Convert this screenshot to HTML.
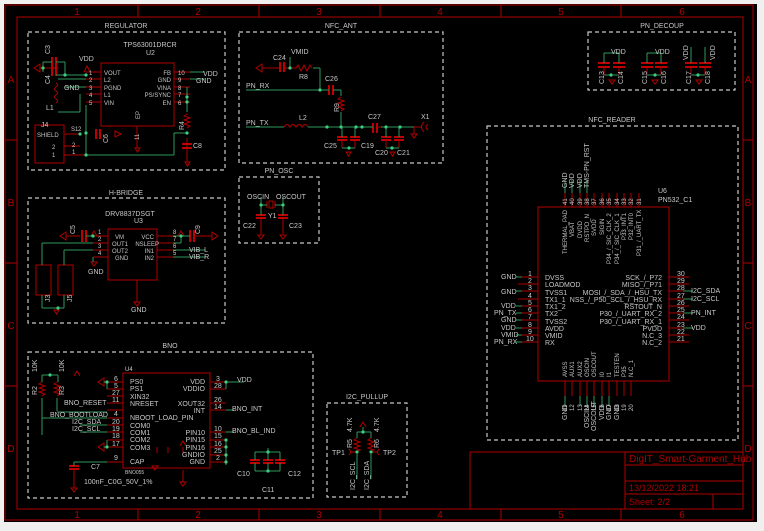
<!DOCTYPE html>
<html><head><meta charset="utf-8"><style>
html,body{margin:0;padding:0;background:#f0f0f0;width:764px;height:531px;overflow:hidden}
svg{display:block}
text{font-family:"Liberation Sans",sans-serif;fill:#c8c8c8;font-size:7px}
.r{stroke:#b00000;fill:none;stroke-width:1}
.g{stroke:#2e9a5c;fill:none;stroke-width:1}
.bx{stroke:#c8c8c8;fill:none;stroke-width:1.2;stroke-dasharray:4,3}
.rt{fill:#b00000;font-size:10px}
.j{fill:#3ccf80}
.t{font-size:8px}
.s{font-size:6px}
.cap{stroke:#c00000;stroke-width:2;fill:none}
</style></head><body>
<svg width="764" height="531" viewBox="0 0 764 531" xmlns="http://www.w3.org/2000/svg">
<rect x="4" y="4" width="753" height="518" fill="#000"/>
<!-- frame -->
<rect x="5" y="5" width="748" height="515" class="r"/>
<rect x="17" y="17" width="726" height="492" class="r"/>
<g class="r">
<line x1="138" y1="5" x2="138" y2="17"/><line x1="259" y1="5" x2="259" y2="17"/><line x1="380" y1="5" x2="380" y2="17"/><line x1="501" y1="5" x2="501" y2="17"/><line x1="621" y1="5" x2="621" y2="17"/>
<line x1="138" y1="509" x2="138" y2="520"/><line x1="259" y1="509" x2="259" y2="520"/><line x1="380" y1="509" x2="380" y2="520"/><line x1="501" y1="509" x2="501" y2="520"/><line x1="621" y1="509" x2="621" y2="520"/>
<line x1="5" y1="140" x2="17" y2="140"/><line x1="5" y1="263" x2="17" y2="263"/><line x1="5" y1="386" x2="17" y2="386"/>
<line x1="743" y1="140" x2="753" y2="140"/><line x1="743" y1="263" x2="753" y2="263"/><line x1="743" y1="386" x2="753" y2="386"/>
</g>
<g class="rt" text-anchor="middle">
<text x="77" y="15" class="rt">1</text><text x="198" y="15" class="rt">2</text><text x="319" y="15" class="rt">3</text><text x="440" y="15" class="rt">4</text><text x="561" y="15" class="rt">5</text><text x="682" y="15" class="rt">6</text>
<text x="77" y="518" class="rt">1</text><text x="198" y="518" class="rt">2</text><text x="319" y="518" class="rt">3</text><text x="440" y="518" class="rt">4</text><text x="561" y="518" class="rt">5</text><text x="682" y="518" class="rt">6</text>
<text x="11" y="83" class="rt">A</text><text x="11" y="206" class="rt">B</text><text x="11" y="329" class="rt">C</text><text x="11" y="452" class="rt">D</text>
<text x="748" y="83" class="rt">A</text><text x="748" y="206" class="rt">B</text><text x="748" y="329" class="rt">C</text><text x="748" y="452" class="rt">D</text>
</g>
<!-- title block -->
<g class="r"><rect x="470" y="452" width="273" height="57"/><line x1="625" y1="452" x2="625" y2="509"/><line x1="625" y1="465" x2="743" y2="465"/><line x1="625" y1="481" x2="743" y2="481"/><line x1="625" y1="494" x2="743" y2="494"/><line x1="713" y1="494" x2="713" y2="509"/></g>
<text x="629" y="462" style="fill:#b00000;font-size:10px">DigIT_Smart-Garment_Hub</text>
<text x="629" y="491" style="fill:#b00000;font-size:9px">13/12/2022 18:21</text>
<text x="629" y="505" style="fill:#b00000;font-size:9px">Sheet: 2/2</text>

<!-- group boxes -->
<rect x="28" y="32" width="197" height="138" class="bx"/><text x="126" y="28" text-anchor="middle">REGULATOR</text>
<rect x="239" y="32" width="204" height="131" class="bx"/><text x="341" y="28" text-anchor="middle">NFC_ANT</text>
<rect x="239" y="177" width="80" height="66" class="bx"/><text x="279" y="173" text-anchor="middle">PN_OSC</text>
<rect x="28" y="198" width="197" height="125" class="bx"/><text x="126" y="195" text-anchor="middle">H-BRIDGE</text>
<rect x="588" y="32" width="147" height="58" class="bx"/><text x="662" y="28" text-anchor="middle">PN_DECOUP</text>
<rect x="487" y="126" width="251" height="314" class="bx"/><text x="612" y="122" text-anchor="middle">NFC_READER</text>
<rect x="28" y="352" width="285" height="146" class="bx"/><text x="170" y="348" text-anchor="middle">BNO</text>
<rect x="327" y="403" width="80" height="94" class="bx"/><text x="367" y="399" text-anchor="middle">I2C_PULLUP</text>

<!-- REGULATOR -->
<rect x="101" y="63" width="73" height="63" class="r"/>
<text x="150" y="47" text-anchor="middle">TPS63001DRCR</text><text x="146" y="55">U2</text>
<g class="r"><line x1="86" y1="72" x2="101" y2="72"/><line x1="86" y1="79" x2="101" y2="79"/><line x1="86" y1="87" x2="101" y2="87"/><line x1="86" y1="94" x2="101" y2="94"/><line x1="86" y1="102" x2="101" y2="102"/>
<line x1="174" y1="72" x2="190" y2="72"/><line x1="174" y1="79" x2="190" y2="79"/><line x1="174" y1="87" x2="190" y2="87"/><line x1="174" y1="94" x2="190" y2="94"/><line x1="174" y1="102" x2="190" y2="102"/><line x1="137" y1="126" x2="137" y2="148"/>
<line x1="40" y1="68" x2="58" y2="68"/><path d="M40 64 L34 68 L40 72Z"/><path d="M84 72 L87 66 L90 72"/><path d="M135 148 h5 l-2.5 4z"/>
<path d="M56 83 q3 2 0 4 q-3 2 0 4 q3 2 0 4 q-3 2 0 4 q3 2 0 4"/>
<rect x="35" y="125" width="29" height="38"/><line x1="64" y1="134" x2="80" y2="134"/><line x1="64" y1="146" x2="80" y2="146"/><line x1="64" y1="155" x2="86" y2="155"/>
<path d="M187 114 l-3 2 l6 2 l-6 2 l6 2 l-6 2 l6 2 l-3 2"/><line x1="187" y1="138" x2="187" y2="162"/><path d="M185 162 h5 l-2.5 4z"/><path d="M115 131 l6 3 l-6 3z"/>
</g>
<g class="cap"><line x1="52" y1="57" x2="52" y2="67"/><line x1="56" y1="57" x2="56" y2="67"/><line x1="52" y1="66" x2="52" y2="76"/><line x1="56" y1="66" x2="56" y2="76"/><line x1="96" y1="129" x2="96" y2="139"/><line x1="100" y1="129" x2="100" y2="139"/><line x1="182" y1="144" x2="192" y2="144"/><line x1="182" y1="148" x2="192" y2="148"/></g>
<g class="g"><line x1="43" y1="62" x2="43" y2="72"/><line x1="43" y1="62" x2="52" y2="62"/><line x1="56" y1="62" x2="65" y2="62"/><line x1="65" y1="62" x2="65" y2="76"/><line x1="56" y1="75" x2="86" y2="75"/><line x1="58" y1="79" x2="86" y2="79"/><line x1="65" y1="87" x2="86" y2="87"/><line x1="80" y1="94" x2="80" y2="112"/><line x1="58" y1="112" x2="80" y2="112"/><line x1="86" y1="105" x2="86" y2="155"/><line x1="86" y1="155" x2="174" y2="155"/><line x1="174" y1="133" x2="174" y2="155"/><line x1="174" y1="133" x2="187" y2="133"/><line x1="190" y1="72" x2="205" y2="72"/><line x1="190" y1="79" x2="205" y2="79"/><line x1="187" y1="87" x2="187" y2="112"/></g>
<circle cx="43" cy="68" r="1.6" class="j"/><circle cx="65" cy="75" r="1.6" class="j"/><circle cx="86" cy="75" r="1.6" class="j"/><circle cx="86" cy="133" r="1.6" class="j"/><circle cx="80" cy="134" r="1.6" class="j"/><circle cx="86" cy="155" r="1.6" class="j"/><circle cx="187" cy="97" r="1.6" class="j"/><circle cx="187" cy="102" r="1.6" class="j"/><circle cx="187" cy="133" r="1.6" class="j"/>
<text x="79" y="61">VDD</text><text x="64" y="90">GND</text><text x="46" y="110">L1</text><text x="41" y="127">J4</text><text x="37" y="137" class="s">SHIELD</text><text x="52" y="149" class="s">2</text><text x="52" y="157" class="s">1</text><text x="71" y="131" class="s">S1</text><text x="78" y="131" class="s">2</text><text x="72" y="147" class="s">2</text><text x="72" y="154" class="s">1</text>
<text x="104" y="75" class="s">VOUT</text><text x="104" y="82" class="s">L2</text><text x="104" y="90" class="s">PGND</text><text x="104" y="97" class="s">L1</text><text x="104" y="105" class="s">VIN</text>
<text x="89" y="75" class="s">1</text><text x="89" y="82" class="s">2</text><text x="89" y="90" class="s">3</text><text x="89" y="97" class="s">4</text><text x="89" y="105" class="s">5</text>
<text x="171" y="75" class="s" text-anchor="end">FB</text><text x="171" y="82" class="s" text-anchor="end">GND</text><text x="171" y="90" class="s" text-anchor="end">VINA</text><text x="171" y="97" class="s" text-anchor="end">PS/SYNC</text><text x="171" y="105" class="s" text-anchor="end">EN</text>
<text x="178" y="75" class="s">10</text><text x="178" y="82" class="s">9</text><text x="178" y="90" class="s">8</text><text x="178" y="97" class="s">7</text><text x="178" y="105" class="s">6</text>
<text x="203" y="76">VDD</text><text x="196" y="83">GND</text><text x="193" y="148">C8</text>
<text x="140" y="119" class="s" transform="rotate(-90 140 119)">EP</text><text x="139" y="140" class="s" transform="rotate(-90 139 140)">11</text>
<text x="50" y="54" transform="rotate(-90 50 54)">C3</text><text x="50" y="84" transform="rotate(-90 50 84)">C4</text><text x="184" y="130" transform="rotate(-90 184 130)">R4</text><text x="108" y="143" transform="rotate(-90 108 143)">C6</text>

<!-- NFC_ANT -->
<g class="cap"><line x1="280" y1="62" x2="280" y2="72"/><line x1="284" y1="62" x2="284" y2="72"/><line x1="329" y1="85" x2="329" y2="95"/><line x1="333" y1="85" x2="333" y2="95"/><line x1="373" y1="123" x2="373" y2="133"/><line x1="377" y1="123" x2="377" y2="133"/>
<line x1="337" y1="137" x2="347" y2="137"/><line x1="337" y1="140" x2="347" y2="140"/><line x1="350" y1="137" x2="360" y2="137"/><line x1="350" y1="140" x2="360" y2="140"/><line x1="381" y1="137" x2="391" y2="137"/><line x1="381" y1="140" x2="391" y2="140"/><line x1="394" y1="137" x2="404" y2="137"/><line x1="394" y1="140" x2="404" y2="140"/></g>
<g class="r"><line x1="262" y1="68" x2="280" y2="68"/><path d="M262 64 L256 68 L262 72Z"/><line x1="284" y1="68" x2="296" y2="68"/><path d="M296 68 l2 -3 l3 6 l3 -6 l3 6 l3 -6 l2 3"/>
<path d="M341 97 l-3 2 l6 2 l-6 2 l6 2 l-6 2 l6 2 l-3 2"/><path d="M284 127 q3 -5 6 0 q3 -5 6 0 q3 -5 6 0 q3 -5 6 0"/><line x1="377" y1="127" x2="381" y2="127"/>
<line x1="342" y1="140" x2="342" y2="148"/><line x1="355" y1="140" x2="355" y2="148"/><line x1="386" y1="140" x2="386" y2="148"/><line x1="399" y1="140" x2="399" y2="148"/><path d="M346 152 h5 l-2.5 4z"/><path d="M390 152 h5 l-2.5 4z"/>
<path d="M424 122 q-5 5 0 10 M428 124 q-4 3 0 6"/><line x1="414" y1="127" x2="422" y2="127"/><line x1="414" y1="127" x2="414" y2="134"/><path d="M411 134 h6 l-3 4z"/></g>
<g class="g"><line x1="290" y1="57" x2="290" y2="68"/><line x1="313" y1="68" x2="320" y2="68"/><line x1="320" y1="68" x2="320" y2="90"/><line x1="246" y1="90" x2="329" y2="90"/><line x1="333" y1="90" x2="341" y2="90"/><line x1="341" y1="90" x2="341" y2="96"/><line x1="341" y1="112" x2="341" y2="127"/><line x1="246" y1="127" x2="284" y2="127"/><line x1="308" y1="127" x2="373" y2="127"/><line x1="381" y1="127" x2="414" y2="127"/><line x1="342" y1="127" x2="342" y2="137"/><line x1="355" y1="127" x2="355" y2="137"/><line x1="386" y1="127" x2="386" y2="137"/><line x1="399" y1="127" x2="399" y2="137"/><line x1="342" y1="148" x2="355" y2="148"/><line x1="386" y1="148" x2="399" y2="148"/></g>
<circle cx="290" cy="68" r="1.6" class="j"/><circle cx="320" cy="90" r="1.6" class="j"/><circle cx="327" cy="127" r="1.6" class="j"/><circle cx="341" cy="127" r="1.6" class="j"/><circle cx="356" cy="127" r="1.6" class="j"/><circle cx="362" cy="127" r="1.6" class="j"/><circle cx="386" cy="127" r="1.6" class="j"/><circle cx="400" cy="127" r="1.6" class="j"/><circle cx="349" cy="148" r="1.6" class="j"/><circle cx="392" cy="148" r="1.6" class="j"/>
<text x="291" y="54">VMID</text><text x="273" y="60">C24</text><text x="299" y="79">R8</text><text x="325" y="81">C26</text><text x="246" y="88">PN_RX</text><text x="246" y="125">PN_TX</text><text x="299" y="120">L2</text><text x="368" y="119">C27</text><text x="421" y="119">X1</text>
<text x="324" y="148">C25</text><text x="361" y="148">C19</text><text x="375" y="155">C20</text><text x="397" y="155">C21</text><text x="339" y="112" transform="rotate(-90 339 112)">R9</text>

<!-- PN_OSC -->
<g class="r"><rect x="269" y="201" width="4" height="7"/><line x1="267" y1="201" x2="267" y2="208"/><line x1="275" y1="201" x2="275" y2="208"/><line x1="261" y1="218" x2="261" y2="234"/><line x1="283" y1="218" x2="283" y2="234"/><path d="M258 235 h6 l-3 4z"/><path d="M280 235 h6 l-3 4z"/></g>
<g class="cap"><line x1="256" y1="215" x2="266" y2="215"/><line x1="256" y1="218" x2="266" y2="218"/><line x1="278" y1="215" x2="288" y2="215"/><line x1="278" y1="218" x2="288" y2="218"/></g>
<g class="g"><line x1="261" y1="197" x2="261" y2="215"/><line x1="283" y1="197" x2="283" y2="215"/><line x1="261" y1="205" x2="267" y2="205"/><line x1="275" y1="205" x2="283" y2="205"/></g>
<circle cx="261" cy="205" r="1.6" class="j"/><circle cx="283" cy="205" r="1.6" class="j"/>
<text x="247" y="199">OSCIN</text><text x="276" y="199">OSCOUT</text><text x="268" y="218">Y1</text><text x="243" y="228">C22</text><text x="289" y="228">C23</text>

<!-- H-BRIDGE -->
<rect x="108" y="229" width="49" height="51" class="r"/><text x="130" y="216" text-anchor="middle">DRV8837DSGT</text><text x="134" y="223">U3</text>
<g class="r"><line x1="93" y1="236" x2="108" y2="236"/><line x1="93" y1="243" x2="108" y2="243"/><line x1="93" y1="250" x2="108" y2="250"/><line x1="93" y1="257" x2="108" y2="257"/><line x1="157" y1="236" x2="173" y2="236"/><line x1="157" y1="243" x2="173" y2="243"/><line x1="157" y1="250" x2="173" y2="250"/><line x1="157" y1="257" x2="173" y2="257"/><line x1="137" y1="280" x2="137" y2="302"/><path d="M134 302 h6 l-3 4z"/>
<line x1="66" y1="236" x2="80" y2="236"/><path d="M66 232 L60 236 L66 240Z"/><path d="M212 232 L218 236 L212 240Z"/><line x1="196" y1="236" x2="212" y2="236"/><path d="M91 236 l3 -5 l3 5"/><path d="M178 236 l3 -5 l3 5"/>
<rect x="36" y="265" width="15" height="30"/><rect x="58" y="265" width="15" height="30"/><path d="M54 310 h5 l-2.5 4z"/><path d="M91 262 h6 l-3 4z"/></g>
<g class="cap"><line x1="82" y1="230" x2="82" y2="242"/><line x1="86" y1="230" x2="86" y2="242"/><line x1="190" y1="230" x2="190" y2="242"/><line x1="194" y1="230" x2="194" y2="242"/></g>
<g class="g"><line x1="86" y1="236" x2="93" y2="236"/><line x1="42" y1="243" x2="93" y2="243"/><line x1="42" y1="243" x2="42" y2="265"/><line x1="64" y1="250" x2="93" y2="250"/><line x1="64" y1="250" x2="64" y2="265"/><line x1="93" y1="257" x2="93" y2="262"/><line x1="42" y1="295" x2="42" y2="308"/><line x1="64" y1="295" x2="64" y2="308"/><line x1="42" y1="308" x2="64" y2="308"/><line x1="173" y1="236" x2="190" y2="236"/><line x1="173" y1="243" x2="181" y2="243"/><line x1="181" y1="236" x2="181" y2="243"/><line x1="173" y1="250" x2="205" y2="250"/><line x1="173" y1="257" x2="205" y2="257"/></g>
<circle cx="93" cy="236" r="1.6" class="j"/><circle cx="181" cy="236" r="1.6" class="j"/><circle cx="58" cy="308" r="1.6" class="j"/>
<text x="115" y="239" class="s">VM</text><text x="112" y="246" class="s">OUT1</text><text x="112" y="253" class="s">OUT2</text><text x="115" y="260" class="s">GND</text>
<text x="154" y="239" class="s" text-anchor="end">VCC</text><text x="159" y="246" class="s" text-anchor="end">NSLEEP</text><text x="154" y="253" class="s" text-anchor="end">IN1</text><text x="154" y="260" class="s" text-anchor="end">IN2</text>
<text x="98" y="234" class="s">1</text><text x="98" y="241" class="s">2</text><text x="98" y="248" class="s">3</text><text x="98" y="255" class="s">4</text><text x="173" y="234" class="s">8</text><text x="173" y="241" class="s">7</text><text x="173" y="248" class="s">6</text><text x="173" y="255" class="s">5</text>
<text x="189" y="252">VIB_L</text><text x="189" y="259">VIB_R</text><text x="88" y="274">GND</text><text x="131" y="312">GND</text>
<text x="75" y="234" transform="rotate(-90 75 234)">C5</text><text x="200" y="234" transform="rotate(-90 200 234)">C9</text><text x="72" y="302" transform="rotate(-90 72 302)">J5</text><text x="50" y="302" transform="rotate(-90 50 302)">J3</text>

<!-- PN_DECOUP -->
<g class="cap"><line x1="598" y1="63" x2="610" y2="63"/><line x1="598" y1="67" x2="610" y2="67"/><line x1="613" y1="63" x2="625" y2="63"/><line x1="613" y1="67" x2="625" y2="67"/><line x1="641" y1="63" x2="653" y2="63"/><line x1="641" y1="67" x2="653" y2="67"/><line x1="655" y1="63" x2="667" y2="63"/><line x1="655" y1="67" x2="667" y2="67"/><line x1="685" y1="63" x2="697" y2="63"/><line x1="685" y1="67" x2="697" y2="67"/><line x1="699" y1="63" x2="711" y2="63"/><line x1="699" y1="67" x2="711" y2="67"/></g>
<g class="g"><line x1="604" y1="53" x2="604" y2="63"/><line x1="604" y1="53" x2="619" y2="53"/><line x1="619" y1="53" x2="619" y2="63"/><line x1="647" y1="53" x2="647" y2="63"/><line x1="647" y1="53" x2="661" y2="53"/><line x1="661" y1="53" x2="661" y2="63"/><line x1="691" y1="47" x2="691" y2="63"/><line x1="705" y1="47" x2="705" y2="63"/><line x1="604" y1="75" x2="619" y2="75"/><line x1="647" y1="75" x2="661" y2="75"/><line x1="691" y1="75" x2="705" y2="75"/></g>
<g class="r"><line x1="604" y1="67" x2="604" y2="75"/><line x1="619" y1="67" x2="619" y2="75"/><line x1="647" y1="67" x2="647" y2="75"/><line x1="661" y1="67" x2="661" y2="75"/><line x1="691" y1="67" x2="691" y2="75"/><line x1="705" y1="67" x2="705" y2="75"/><path d="M609 80 h6 l-3 4z"/><path d="M652 80 h6 l-3 4z"/><path d="M696 80 h6 l-3 4z"/></g>
<circle cx="611" cy="75" r="1.6" class="j"/><circle cx="655" cy="75" r="1.6" class="j"/><circle cx="698" cy="75" r="1.6" class="j"/>
<text x="611" y="54">VDD</text><text x="655" y="54">VDD</text>
<text x="604" y="84" transform="rotate(-90 604 84)">C13</text><text x="623" y="84" transform="rotate(-90 623 84)">C14</text><text x="647" y="84" transform="rotate(-90 647 84)">C15</text><text x="666" y="84" transform="rotate(-90 666 84)">C16</text><text x="691" y="84" transform="rotate(-90 691 84)">C17</text><text x="710" y="84" transform="rotate(-90 710 84)">C18</text>
<text x="688" y="60" transform="rotate(-90 688 60)">VDD</text><text x="715" y="60" transform="rotate(-90 715 60)">VDD</text>

<!-- NFC_READER U6 -->
<rect x="538" y="207" width="131" height="174" class="r"/>
<text x="658" y="193">U6</text><text x="658" y="202">PN532_C1</text>
<g class="r">
<line x1="518" y1="277" x2="538" y2="277"/><line x1="518" y1="284" x2="538" y2="284"/><line x1="518" y1="291" x2="538" y2="291"/><line x1="518" y1="299" x2="538" y2="299"/><line x1="518" y1="306" x2="538" y2="306"/><line x1="518" y1="313" x2="538" y2="313"/><line x1="518" y1="320" x2="538" y2="320"/><line x1="518" y1="328" x2="538" y2="328"/><line x1="518" y1="335" x2="538" y2="335"/><line x1="518" y1="342" x2="538" y2="342"/>
<line x1="669" y1="277" x2="689" y2="277"/><line x1="669" y1="284" x2="689" y2="284"/><line x1="669" y1="291" x2="689" y2="291"/><line x1="669" y1="299" x2="689" y2="299"/><line x1="669" y1="306" x2="689" y2="306"/><line x1="669" y1="313" x2="689" y2="313"/><line x1="669" y1="320" x2="689" y2="320"/><line x1="669" y1="328" x2="689" y2="328"/><line x1="669" y1="335" x2="689" y2="335"/><line x1="669" y1="342" x2="689" y2="342"/>
<path d="M565 193v14M572 193v14M580 193v14M587 193v14M594 193v14M602 193v14M609 193v14M617 193v14M624 193v14M631 193v14M639 193v14"/>
<path d="M565 381v15M572 381v15M580 381v15M587 381v15M594 381v15M602 381v15M609 381v15M617 381v15M624 381v15M631 381v15"/>
</g>
<g class="g"><path d="M565 180v13M572 180v13M580 180v13M587 180v13M565 396v10M580 396v10M587 396v10M594 396v10M602 396v10M609 396v10"/><path d="M516 277h6M516 291h6M516 306h6M516 313h6M516 320h6M516 328h6M516 335h6M516 342h6M683 291h10M683 299h10M683 313h10M683 328h10"/></g>
<g class="s" font-size="6">
<text x="567" y="188" transform="rotate(-90 567 188)" style="font-size:7px">GND</text><text x="574" y="188" transform="rotate(-90 574 188)" style="font-size:7px">VDD</text><text x="582" y="188" transform="rotate(-90 582 188)" style="font-size:7px">VDD</text><text x="589" y="188" transform="rotate(-90 589 188)" style="font-size:7px">TMS-PN_RST</text>
<text x="567" y="205" transform="rotate(-90 567 205)" class="s">41</text><text x="574" y="205" transform="rotate(-90 574 205)" class="s">40</text><text x="582" y="205" transform="rotate(-90 582 205)" class="s">39</text><text x="589" y="205" transform="rotate(-90 589 205)" class="s">38</text><text x="596" y="205" transform="rotate(-90 596 205)" class="s">37</text><text x="604" y="205" transform="rotate(-90 604 205)" class="s">36</text><text x="611" y="205" transform="rotate(-90 611 205)" class="s">35</text><text x="619" y="205" transform="rotate(-90 619 205)" class="s">34</text><text x="626" y="205" transform="rotate(-90 626 205)" class="s">33</text><text x="633" y="205" transform="rotate(-90 633 205)" class="s">32</text><text x="641" y="205" transform="rotate(-90 641 205)" class="s">31</text>
<text x="567" y="254" transform="rotate(-90 567 254)" class="s">THERMAL_PAD</text><text x="574" y="237" transform="rotate(-90 574 237)" class="s">VBAT</text><text x="582" y="238" transform="rotate(-90 582 238)" class="s">DVDD</text><text x="589" y="242" transform="rotate(-90 589 242)" class="s">RSTPD_N</text><text x="596" y="236" transform="rotate(-90 596 236)" class="s">SVDD</text><text x="604" y="235" transform="rotate(-90 604 235)" class="s">SIGIN</text><text x="611" y="264" transform="rotate(-90 611 264)" class="s">P34_/_SIC_CLK_2</text><text x="619" y="264" transform="rotate(-90 619 264)" class="s">P34_/_SIC_CLK_1</text><text x="626" y="240" transform="rotate(-90 626 240)" class="s">P33_INT1</text><text x="633" y="240" transform="rotate(-90 633 240)" class="s">P32_INT0</text><text x="641" y="256" transform="rotate(-90 641 256)" class="s">P31_/_UART_TX</text>
<text x="567" y="411" transform="rotate(-90 567 411)" class="s">11</text><text x="574" y="411" transform="rotate(-90 574 411)" class="s">12</text><text x="582" y="411" transform="rotate(-90 582 411)" class="s">13</text><text x="589" y="411" transform="rotate(-90 589 411)" class="s">14</text><text x="596" y="411" transform="rotate(-90 596 411)" class="s">15</text><text x="604" y="411" transform="rotate(-90 604 411)" class="s">16</text><text x="611" y="411" transform="rotate(-90 611 411)" class="s">17</text><text x="619" y="411" transform="rotate(-90 619 411)" class="s">18</text><text x="626" y="411" transform="rotate(-90 626 411)" class="s">19</text><text x="633" y="411" transform="rotate(-90 633 411)" class="s">20</text>
<text x="567" y="377" transform="rotate(-90 567 377)" class="s">AVSS</text><text x="574" y="377" transform="rotate(-90 574 377)" class="s">AUX1</text><text x="582" y="377" transform="rotate(-90 582 377)" class="s">AUX2</text><text x="589" y="377" transform="rotate(-90 589 377)" class="s">OSCIN</text><text x="596" y="377" transform="rotate(-90 596 377)" class="s">OSCOUT</text><text x="604" y="377" transform="rotate(-90 604 377)" class="s">I0</text><text x="611" y="377" transform="rotate(-90 611 377)" class="s">I1</text><text x="619" y="377" transform="rotate(-90 619 377)" class="s">TESTEN</text><text x="626" y="377" transform="rotate(-90 626 377)" class="s">P35</text><text x="633" y="377" transform="rotate(-90 633 377)" class="s">N.C_1</text>
<text x="567" y="420" transform="rotate(-90 567 420)" style="font-size:7px">GND</text><text x="589" y="428" transform="rotate(-90 589 428)" style="font-size:7px">OSCIN</text><text x="596" y="431" transform="rotate(-90 596 431)" style="font-size:7px">OSCOUT</text><text x="604" y="420" transform="rotate(-90 604 420)" style="font-size:7px">VDD</text><text x="611" y="420" transform="rotate(-90 611 420)" style="font-size:7px">GND</text><text x="619" y="420" transform="rotate(-90 619 420)" style="font-size:7px">GND</text>
</g>
<g class="s">
<text x="545" y="280">DVSS</text><text x="545" y="287">LOADMOD</text><text x="545" y="295">TVSS1</text><text x="545" y="302">TX1_1</text><text x="545" y="309">TX1_2</text><text x="545" y="316">TX2</text><text x="545" y="324">TVSS2</text><text x="545" y="331">AVDD</text><text x="545" y="338">VMID</text><text x="545" y="345">RX</text>
<text x="528" y="276">1</text><text x="528" y="283">2</text><text x="528" y="290">3</text><text x="528" y="298">4</text><text x="528" y="305">5</text><text x="528" y="312">6</text><text x="528" y="319">7</text><text x="528" y="327">8</text><text x="528" y="334">9</text><text x="526" y="341">10</text>
<text x="662" y="280" text-anchor="end">SCK_/_P72</text><text x="662" y="287" text-anchor="end">MISO_/_P71</text><text x="662" y="295" text-anchor="end">MOSI_/_SDA_/_HSU_TX</text><text x="662" y="302" text-anchor="end">NSS_/_P50_SCL_/_HSU_RX</text><text x="662" y="309" text-anchor="end">RSTOUT_N</text><text x="662" y="316" text-anchor="end">P30_/_UART_RX_2</text><text x="662" y="324" text-anchor="end">P30_/_UART_RX_1</text><text x="662" y="331" text-anchor="end">PVDD</text><text x="662" y="338" text-anchor="end">N.C_3</text><text x="662" y="345" text-anchor="end">N.C_2</text>
<text x="677" y="276">30</text><text x="677" y="283">29</text><text x="677" y="290">28</text><text x="677" y="298">27</text><text x="677" y="305">26</text><text x="677" y="312">25</text><text x="677" y="319">24</text><text x="677" y="327">23</text><text x="677" y="334">22</text><text x="677" y="341">21</text>
</g>
<text x="501" y="279">GND</text><text x="501" y="294">GND</text><text x="501" y="308">VDD</text><text x="494" y="315">PN_TX</text><text x="501" y="322">GND</text><text x="501" y="330">VDD</text><text x="501" y="337">VMID</text><text x="494" y="344">PN_RX</text>
<text x="691" y="293">I2C_SDA</text><text x="691" y="301">I2C_SCL</text><text x="691" y="315">PN_INT</text><text x="691" y="330">VDD</text>

<!-- BNO U4 -->
<rect x="123" y="373" width="87" height="95" class="r"/><text x="125" y="371" class="s">U4</text><text x="125" y="474" style="font-size:5px">BNO055</text>
<g class="r"><path d="M107 382h16M107 389h16M107 396h16M107 403h16M107 418h16M107 425h16M107 432h16M107 440h16M107 447h16M107 462h16M210 382h16M210 389h16M210 403h16M210 410h16M210 432h16M210 440h16M210 447h16M210 455h16M210 462h16"/>
<path d="M74 376 l3 -5 l3 5"/><path d="M42 382 l-3 2 l6 2 l-6 2 l6 2 l-6 2 l6 2 l-3 2 M57 382 l-3 2 l6 2 l-6 2 l6 2 l-6 2 l6 2 l-3 2"/>
<path d="M104 378 L98 382 L104 386Z"/><path d="M104 443 L98 447 L104 451Z"/><path d="M152 466 h6 l-3 4z"/>
<line x1="74" y1="470" x2="74" y2="488"/><path d="M71 488 h6 l-3 4z"/><path d="M180 446 l3 -5 l3 5"/><path d="M180 482 h6 l-3 4z"/><line x1="183" y1="470" x2="183" y2="482"/>
<line x1="157" y1="447" x2="157" y2="453"/><line x1="168" y1="447" x2="168" y2="453"/><line x1="183" y1="447" x2="183" y2="453"/></g>
<g class="cap"><line x1="69" y1="466" x2="79" y2="466"/><line x1="69" y1="469" x2="79" y2="469"/><line x1="250" y1="460" x2="260" y2="460"/><line x1="250" y1="463" x2="260" y2="463"/><line x1="263" y1="460" x2="273" y2="460"/><line x1="263" y1="463" x2="273" y2="463"/><line x1="275" y1="460" x2="285" y2="460"/><line x1="275" y1="463" x2="285" y2="463"/></g>
<g class="g"><path d="M42 375h16M42 375v7M58 375v7M42 398v37M57 398v13M57 412h50M42 418h65M80 425h27M80 432h27M107 382v7M104 382h3M104 447h3M107 440v7M226 382h18M226 382v7M226 410h8M226 432h8M226 440v25"/>
<path d="M255 452h25M255 452v8M268 452v8M280 452v8M255 463v8M268 463v8M280 463v8M255 471h25M268 448v4"/><path d="M74 462v4M74 462h33"/></g>
<g class="r"><line x1="107" y1="410" x2="123" y2="410"/></g>
<circle cx="50" cy="375" r="1.6" class="j"/><circle cx="107" cy="382" r="1.6" class="j"/><circle cx="107" cy="447" r="1.6" class="j"/><circle cx="226" cy="382" r="1.6" class="j"/><circle cx="226" cy="447" r="1.6" class="j"/><circle cx="226" cy="455" r="1.6" class="j"/><circle cx="226" cy="462" r="1.6" class="j"/><circle cx="226" cy="440" r="1.6" class="j"/><circle cx="268" cy="452" r="1.6" class="j"/><circle cx="268" cy="471" r="1.6" class="j"/>
<g class="s"><text x="130" y="384">PS0</text><text x="130" y="391">PS1</text><text x="130" y="399">XIN32</text><text x="130" y="406">NRESET</text><text x="130" y="420">NBOOT_LOAD_PIN</text><text x="130" y="428">COM0</text><text x="130" y="435">COM1</text><text x="130" y="442">COM2</text><text x="130" y="450">COM3</text><text x="130" y="464">CAP</text>
<text x="205" y="384" text-anchor="end">VDD</text><text x="205" y="391" text-anchor="end">VDDIO</text><text x="205" y="406" text-anchor="end">XOUT32</text><text x="205" y="413" text-anchor="end">INT</text><text x="205" y="435" text-anchor="end">PIN10</text><text x="205" y="442" text-anchor="end">PIN15</text><text x="205" y="450" text-anchor="end">PIN16</text><text x="205" y="457" text-anchor="end">GNDIO</text><text x="205" y="464" text-anchor="end">GND</text>
<text x="114" y="381">6</text><text x="114" y="388">5</text><text x="112" y="395">27</text><text x="112" y="402">11</text><text x="114" y="416">4</text><text x="112" y="424">20</text><text x="112" y="431">19</text><text x="112" y="438">18</text><text x="112" y="446">17</text><text x="114" y="460">9</text>
<text x="216" y="381">3</text><text x="214" y="388">28</text><text x="214" y="402">26</text><text x="214" y="409">14</text><text x="214" y="431">10</text><text x="214" y="438">15</text><text x="214" y="446">16</text><text x="214" y="453">25</text><text x="216" y="460">2</text></g>
<text x="237" y="382">VDD</text><text x="232" y="411">BNO_INT</text><text x="232" y="433">BNO_BL_IND</text>
<text x="64" y="405">BNO_RESET</text><text x="50" y="417">BNO_BOOTLOAD</text><text x="72" y="424">I2C_SDA</text><text x="72" y="431">I2C_SCL</text>
<text x="91" y="469">C7</text><text x="84" y="484">100nF_C0G_50V_1%</text><text x="237" y="476">C10</text><text x="288" y="476">C12</text><text x="262" y="492">C11</text>
<text x="37" y="395" transform="rotate(-90 37 395)">R2</text><text x="64" y="395" transform="rotate(-90 64 395)">R3</text><text x="37" y="372" transform="rotate(-90 37 372)">10K</text><text x="64" y="372" transform="rotate(-90 64 372)">10K</text>

<!-- I2C_PULLUP -->
<g class="r"><path d="M360 427 l3 -5 l3 5"/><path d="M357 438 l-3 2 l6 2 l-6 2 l6 2 l-6 2 l6 2 l-3 2 M371 438 l-3 2 l6 2 l-6 2 l6 2 l-6 2 l6 2 l-3 2"/><path d="M351 452h6M371 452h6"/><path d="M349 449 q3 3 0 6 M379 449 q-3 3 0 6"/></g>
<g class="g"><path d="M357 432h14M357 432v6M371 432v6M357 454v25M371 454v25M363 427v5"/></g>
<circle cx="363" cy="432" r="1.6" class="j"/><circle cx="357" cy="452" r="1.6" class="j"/><circle cx="371" cy="452" r="1.6" class="j"/>
<text x="332" y="455">TP1</text><text x="383" y="455">TP2</text>
<text x="355" y="490" transform="rotate(-90 355 490)">I2C_SCL</text><text x="369" y="490" transform="rotate(-90 369 490)">I2C_SDA</text>
<text x="352" y="448" transform="rotate(-90 352 448)">R5</text><text x="379" y="448" transform="rotate(-90 379 448)">R6</text><text x="352" y="432" transform="rotate(-90 352 432)">4.7K</text><text x="379" y="432" transform="rotate(-90 379 432)">4.7K</text>
</svg>
</body></html>
